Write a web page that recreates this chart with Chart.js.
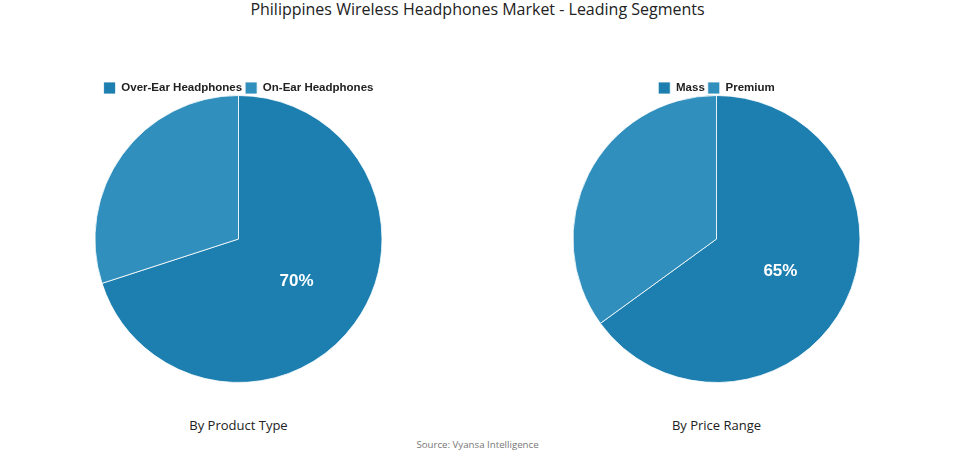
<!DOCTYPE html>
<html>
<head>
<meta charset="utf-8">
<script src="https://cdn.jsdelivr.net/npm/chart.js@4.4.0/dist/chart.umd.min.js"></script>
<style>
  body { margin: 0; background: #ffffff; width: 955px; height: 454px; position: relative; overflow: hidden; }
  .title { position: absolute; top: -1px; left: 0; width: 955px; text-align: center; font-family: "Open Sans", sans-serif; font-size: 16px; line-height: 20px; color: #222; }
  .box { position: absolute; top: 79px; width: 477px; height: 304px; }
  .sub { position: absolute; top: 416px; width: 477px; text-align: center; font-family: "Open Sans", sans-serif; font-size: 13px; color: #222; }
  .source { position: absolute; top: 438px; left: 0; width: 955px; text-align: center; font-family: "Open Sans", sans-serif; font-size: 9.7px; color: #777; }
</style>
</head>
<body>
<div class="title">Philippines Wireless Headphones Market - Leading Segments</div>
<div class="box" style="left:0"><canvas id="c1"></canvas></div>
<div class="box" style="left:478px"><canvas id="c2"></canvas></div>
<div class="sub" style="left:0">By Product Type</div>
<div class="sub" style="left:478px">By Price Range</div>
<div class="source">Source: Vyansa Intelligence</div>
<script>
// segment data
const productLabels = ['Over-Ear Headphones', 'On-Ear Headphones'];
const productValues = [70, 30];
const priceLabels = ['Mass', 'Premium'];
const priceValues = [65, 35];
const sliceColors = ['#1c7fb0', '#308fbd'];

// writes the percentage on the biggest slice only
const pctLabel = {
    id: 'pctLabel',
    afterDatasetsDraw(chart) {
        const ctx = chart.ctx;
        const meta = chart.getDatasetMeta(0);
        const vals = chart.data.datasets[0].data;
        const max = Math.max(...vals);
        meta.data.forEach((arc, i) => {
            if (vals[i] !== max) return;
            const p = arc.tooltipPosition();
            ctx.save();
            ctx.fillStyle = '#ffffff';
            ctx.font = 'bold 17px "Liberation Sans", Arial, sans-serif';
            ctx.textAlign = 'center';
            ctx.textBaseline = 'middle';
            ctx.fillText(vals[i] + '%', p.x, p.y);
            ctx.restore();
        });
    }
};

// legend sits close to the pie, so trim its reserved height
const tightLegend = {
    id: 'tightLegend',
    afterInit(chart) {
        const legend = chart.legend;
        if (!legend) return;
        const fit = legend.fit;
        legend.fit = function() {
            fit.call(this);
            this.height -= 9;
        };
    }
};

function makePie(id, labels, values) {
    return new Chart(document.getElementById(id), {
        type: 'pie',
        data: {
            labels: labels,
            datasets: [{
                data: values,
                backgroundColor: sliceColors,
                borderColor: 'rgba(255,255,255,0.8)',
                borderWidth: 1
            }]
        },
        options: {
            responsive: true,
            maintainAspectRatio: false,
            animation: false,
            plugins: {
                legend: {
                    position: 'top',
                    labels: {
                        boxWidth: 12,
                        boxHeight: 12,
                        padding: 3,
                        color: '#222',
                        font: { family: '"Liberation Sans", Arial, sans-serif', size: 11.5, weight: 'bold' }
                    }
                },
                tooltip: { enabled: false }
            }
        },
        plugins: [tightLegend, pctLabel]
    });
}

makePie('c1', productLabels, productValues);
makePie('c2', priceLabels, priceValues);
</script>
</body>
</html>
